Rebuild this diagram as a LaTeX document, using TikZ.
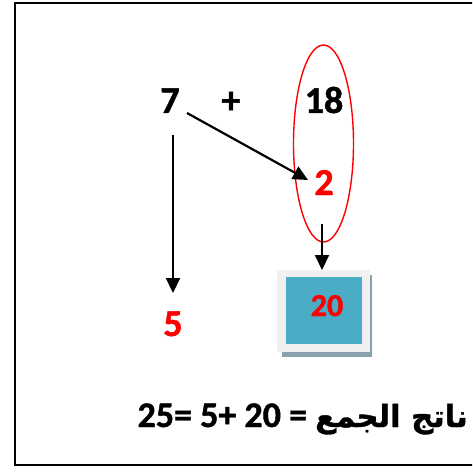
\documentclass[tikz,border=0pt]{standalone}
\usepackage{fontspec}
\setmainfont{Carlito}[BoldFeatures={FakeBold=1.2}]
\newfontfamily\arabicfont[Script=Arabic,Scale=0.85,BoldFeatures={FakeBold=1.2}]{DejaVu Sans}
\TeXXeTstate=1
\usetikzlibrary{arrows.meta,shapes.geometric}
\definecolor{boxblue}{HTML}{4BACC6}
\definecolor{boxframe}{HTML}{F0F0F0}
\definecolor{boxshadow}{HTML}{8AA2AC}
\tikzset{
  big/.style={font=\fontsize{38}{44}\selectfont\bfseries, inner sep=0pt, anchor=base},
  redbig/.style={big, text=red},
  arr/.style={line width=2.2pt, -{Triangle[length=15pt,width=14pt]}},
}
\begin{document}
\begin{tikzpicture}[x=1pt,y=-1pt]
\clip (0,0) rectangle (472,473);
\fill[white] (0,0) rectangle (472,473);
% frame
\draw[line width=1.8pt] (15,3) rectangle (490,465);
% numbers
\node[big] (seven) at (170,113) {7};
\node[big] (plus) at (231,113) {+};
\node[big] (eighteen) at (324,113) {18};
\node[redbig] (two) at (324,195) {2};
\node[redbig] (five) at (173,336) {5};
% ellipse
\node[draw=red, line width=1.4pt, ellipse, minimum width=60pt, minimum height=197pt, inner sep=0pt] (ell) at (323.5,143.5) {};
% box
\fill[boxshadow] (282,275) rectangle (372,357);
\node[fill=boxframe, minimum width=93pt, minimum height=82pt, inner sep=0pt, anchor=north west] (frame) at (277,270) {};
\node[fill=boxblue, minimum width=76pt, minimum height=67pt, inner sep=0pt, anchor=north west] (box) at (286,277) {};
\node[font=\fontsize{32}{36}\selectfont\bfseries, text=red, inner sep=0pt, anchor=base] (twenty) at (327,316) {20};
% arrow coordinates
\coordinate (d1) at (187,113);
\coordinate (d2) at (308,180);
\coordinate (v1) at (173,135);
\coordinate (v2) at (173,293);
\coordinate (e1) at (322,224);
\draw[arr] (d1) -- (d2);
\draw[arr] (v1) -- (v2);
\draw[arr] (e1) -- (frame.north -| e1);
% result line
\node[font=\fontsize{36}{42}\selectfont\bfseries, inner sep=0pt, anchor=base east] (result) at (468,427)
  {25= 5+ 20 = {\arabicfont\bfseries\beginR ناتج الجمع\endR}};
\end{tikzpicture}
\end{document}
